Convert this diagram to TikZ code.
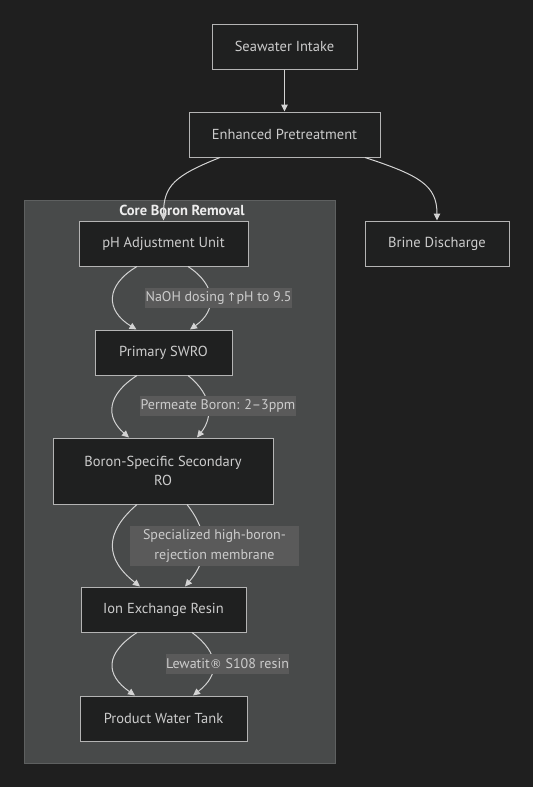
\documentclass[tikz,border=0pt]{standalone}
\usepackage{fontspec}
\setmainfont{PT Sans}
\newfontfamily\symfont{DejaVu Sans}
\usetikzlibrary{arrows.meta}
\definecolor{bgc}{HTML}{1F1F1F}
\definecolor{nodefill}{HTML}{1F2020}
\definecolor{nodeline}{HTML}{B4B4B4}
\definecolor{txt}{HTML}{CCCCCC}
\definecolor{clfill}{HTML}{484A4A}
\definecolor{clline}{HTML}{5E6060}
\definecolor{edgec}{HTML}{D3D3D3}
\definecolor{lblbg}{HTML}{5A5A5A}
\tikzset{
  box/.style={draw=nodeline, fill=nodefill, line width=1pt, text=txt,
    font=\fontsize{14.5}{19}\selectfont, inner sep=0pt, align=center},
  edge/.style={draw=edgec, line width=1pt, -{Triangle[length=7pt,width=6.5pt]}},
  lbl/.style={fill=lblbg, text=txt, font=\fontsize{14}{20}\selectfont,
    inner xsep=0.5pt, inner ysep=0pt, minimum height=20, align=center}
}
\begin{document}
\begin{tikzpicture}[x=1pt,y=-1pt]
\fill[bgc] (0,0) rectangle (533,787);
\useasboundingbox (0,0) rectangle (533,787);
% cluster
\draw[clline, fill=clfill, line width=1pt] (24,200) rectangle (335,763);
\node[text=white!93!black, font=\bfseries\fontsize{14.5}{18}\selectfont] (cltitle) at (182,210) {Core Boron Removal};
% nodes
\node[box, minimum width=145, minimum height=45] (si) at (284.5,46.5) {Seawater Intake};
\node[box, minimum width=191, minimum height=45] (ep) at (284.5,134.5) {Enhanced Pretreatment};
\node[box, minimum width=144, minimum height=45] (bd) at (437,243.5) {Brine Discharge};
\node[box, minimum width=169, minimum height=45] (ph) at (163.5,243.5) {\raisebox{-1pt}{pH Adjustment Unit}};
\node[box, minimum width=137, minimum height=45] (sw) at (163.5,352.5) {Primary SWRO};
\node[box, minimum width=220, minimum height=66] (bs) at (163,471) {Boron-Specific Secondary\\RO};
\node[box, minimum width=165, minimum height=45] (ie) at (163.5,609.5) {Ion Exchange Resin};
\node[box, minimum width=167, minimum height=45] (pw) at (163.5,718.5) {Product Water Tank};
% edges
\draw[edge] (si) -- (ep);
\draw[edge] ([xshift=-64.5]ep.south) .. controls +(-45,18) and +(0,-35) .. (ph.north);
\draw[edge] ([xshift=80.5]ep.south) .. controls +(55,18) and +(0,-35) .. (bd.north);
% pair 1
\draw[edge] ([xshift=-26.5]ph.south) .. controls +(-32,19) and +(-31,-19) .. ([xshift=-27]sw.north);
\draw[edge] ([xshift=24.5]ph.south) .. controls +(29,19) and +(27,-19) .. ([xshift=26.5]sw.north);
% pair 2
\draw[edge] ([xshift=-26.5]sw.south) .. controls +(-31,20) and +(-23,-20) .. ([xshift=-34]bs.north);
\draw[edge] ([xshift=24.5]sw.south) .. controls +(25,20) and +(16,-20) .. ([xshift=34]bs.north);
% pair 3
\draw[edge] ([xshift=-26]bs.south) .. controls +(-32.5,28) and +(-35.5,-28) .. ([xshift=-23.5]ie.north);
\draw[edge] ([xshift=24]bs.south) .. controls +(22,28) and +(24,-28) .. ([xshift=21.5]ie.north);
% pair 4
\draw[edge] ([xshift=-26.5]ie.south) .. controls +(-32,21) and +(-30,-21) .. ([xshift=-28.5]pw.north);
\draw[edge] ([xshift=28.5]ie.south) .. controls +(28,21) and +(27,-21) .. ([xshift=29.5]pw.north);
% labels
\node[lbl] (l1) at (218.5,298) {NaOH dosing{\symfont\fontsize{12}{18}\selectfont\,↑}pH to 9.5};
\node[lbl] (l2) at (218,406) {Permeate Boron: 2–3ppm};
\node[lbl, minimum width=169, minimum height=40] (l3) at (214.5,546) {Specialized high-boron-\\rejection membrane};
\node[lbl] (l4) at (227.5,664) {Lewatit{\symfont\fontsize{12}{18}\selectfont ®} S108 resin};
\end{tikzpicture}
\end{document}
